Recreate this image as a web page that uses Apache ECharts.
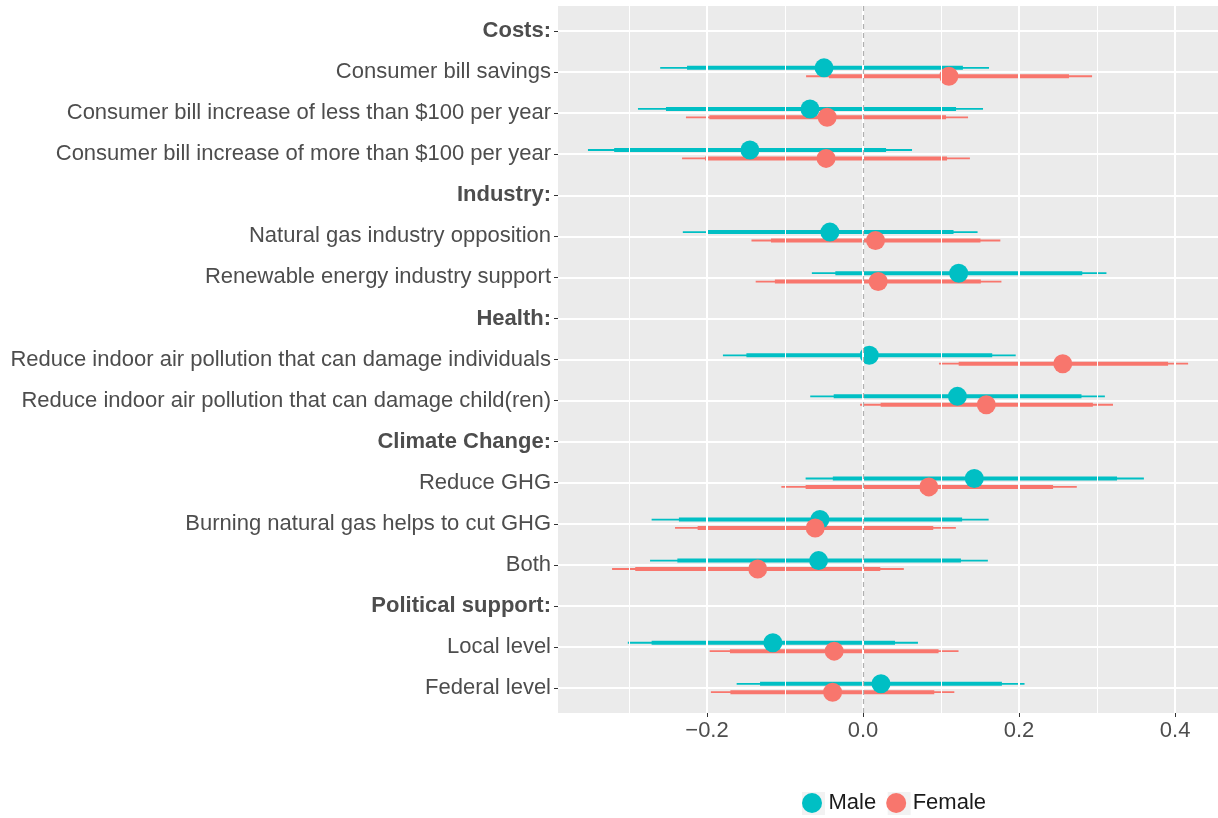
<!DOCTYPE html>
<html>
<head>
<meta charset="utf-8">
<script src="https://cdn.jsdelivr.net/npm/echarts@6/dist/echarts.min.js"></script>
<style>html,body{margin:0;padding:0;background:#fff}#c{width:1218px;height:818px}</style>
</head>
<body>
<div id="c"></div>
<script>
// ---- data ----
const categories = [
  'Costs:',
  'Consumer bill savings',
  'Consumer bill increase of less than $100 per year',
  'Consumer bill increase of more than $100 per year',
  'Industry:',
  'Natural gas industry opposition',
  'Renewable energy industry support',
  'Health:',
  'Reduce indoor air pollution that can damage individuals',
  'Reduce indoor air pollution that can damage child(ren)',
  'Climate Change:',
  'Reduce GHG',
  'Burning natural gas helps to cut GHG',
  'Both',
  'Political support:',
  'Local level',
  'Federal level'
];
const headers = ['Costs:', 'Industry:', 'Health:', 'Climate Change:', 'Political support:'];

// estimate, outer interval (low, high), inner interval (low, high); null for header rows
const maleEst  = [null, -0.050, -0.068, -0.145, null, -0.0425, 0.1226, null, 0.008, 0.121, null, 0.1426, -0.0553, -0.057, null, -0.1156, 0.023];
const maleLo95 = [null, -0.260, -0.2885, -0.3526, null, -0.231, -0.0656, null, -0.1796, -0.0677, null, -0.0736, -0.271, -0.273, null, -0.3015, -0.162];
const maleHi95 = [null, 0.1615, 0.1538, 0.0628, null, 0.1468, 0.312, null, 0.1957, 0.310, null, 0.360, 0.161, 0.160, null, 0.0704, 0.207];
const maleLo90 = [null, -0.2256, -0.2526, -0.319, null, -0.201, -0.0355, null, -0.1495, -0.0376, null, -0.0387, -0.236, -0.238, null, -0.271, -0.132];
const maleHi90 = [null, 0.128, 0.1192, 0.0295, null, 0.116, 0.281, null, 0.1656, 0.280, null, 0.3256, 0.127, 0.1255, null, 0.041, 0.178];

const femaleEst  = [null, 0.110, -0.046, -0.0474, null, 0.016, 0.0194, null, 0.256, 0.158, null, 0.0843, -0.0613, -0.135, null, -0.037, -0.039];
const femaleLo95 = [null, -0.073, -0.227, -0.232, null, -0.143, -0.1376, null, 0.0973, -0.0038, null, -0.1047, -0.241, -0.3217, null, -0.1966, -0.195];
const femaleHi95 = [null, 0.2936, 0.1346, 0.137, null, 0.176, 0.1774, null, 0.4167, 0.3204, null, 0.274, 0.119, 0.0523, null, 0.1224, 0.117];
const femaleLo90 = [null, -0.0436, -0.197, -0.2026, null, -0.118, -0.113, null, 0.1226, 0.0226, null, -0.0736, -0.212, -0.292, null, -0.1706, -0.170];
const femaleHi90 = [null, 0.264, 0.1064, 0.1077, null, 0.1505, 0.151, null, 0.391, 0.2946, null, 0.2436, 0.090, 0.0221, null, 0.0968, 0.0913];

const xMajorTicks = [-0.2, 0, 0.2, 0.4];
const xMinorTicks = [-0.3, -0.1, 0.1, 0.3];
const xMin = -0.391, xMax = 0.455;

// ---- styling ----
const FONT = 'Liberation Sans, Arial, Helvetica, sans-serif';
const MALE = '#00BFC4', FEMALE = '#F8766D';
const DODGE = 4.2;

function rangeData(lo95, hi95, lo90, hi90) {
  const out = [];
  for (let i = 0; i < categories.length; i++) {
    if (lo95[i] == null) continue;
    out.push([i, lo95[i], hi95[i], lo90[i], hi90[i]]);
  }
  return out;
}
function pointData(est) {
  const out = [];
  for (let i = 0; i < categories.length; i++) {
    if (est[i] == null) continue;
    out.push([est[i], i]);
  }
  return out;
}
function makeRender(color, dy) {
  return function (params, api) {
    const yi = api.value(0);
    const a = api.coord([api.value(1), yi]);
    const b = api.coord([api.value(2), yi]);
    const c = api.coord([api.value(3), yi]);
    const d = api.coord([api.value(4), yi]);
    return {
      type: 'group',
      children: [
        { type: 'line', shape: { x1: a[0], y1: a[1] + dy, x2: b[0], y2: b[1] + dy },
          style: { stroke: color, lineWidth: 1.8 } },
        { type: 'line', shape: { x1: c[0], y1: c[1] + dy, x2: d[0], y2: d[1] + dy },
          style: { stroke: color, lineWidth: 4 } }
      ]
    };
  };
}

const chart = echarts.init(document.getElementById('c'), null, { renderer: 'canvas' });
const markData = [];
xMinorTicks.forEach(v => markData.push({ xAxis: v, lineStyle: { color: '#ffffff', width: 1, type: 'solid' } }));
xMajorTicks.forEach(v => markData.push({ xAxis: v, lineStyle: { color: '#ffffff', width: 2, type: 'solid' } }));
markData.push({ xAxis: 0, lineStyle: { color: '#b0b0b0', width: 1.2, type: [5, 4] } });

chart.setOption({
  animation: false,
  textStyle: { fontFamily: FONT },
  grid: [
    { left: 558, right: 0, top: 6, bottom: 105, show: true, backgroundColor: '#ebebeb', borderWidth: 0, outerBoundsMode: 'none' },
    { left: 558, right: 0, top: 31, bottom: 130, show: false, outerBoundsMode: 'none' }
  ],
  xAxis: [
    { type: 'value', gridIndex: 0, min: xMin, max: xMax,
      axisLine: { show: false, onZero: false },
      splitLine: { show: false },
      axisTick: { show: true, length: 4, lineStyle: { color: '#333333', width: 1 }, customValues: xMajorTicks },
      axisLabel: { customValues: xMajorTicks, margin: 7, fontSize: 22, color: '#4d4d4d', fontFamily: FONT,
        formatter: v => v.toFixed(1).replace('-', '\u2212') } },
    { type: 'value', gridIndex: 1, min: xMin, max: xMax, show: false, axisLine: { onZero: false } }
  ],
  yAxis: [
    { type: 'value', gridIndex: 0, min: 0, max: 1, show: false, axisLine: { onZero: false } },
    { type: 'category', gridIndex: 1, data: categories, inverse: true, boundaryGap: false, z: 1, position: 'left',
      axisLine: { show: false, onZero: false },
      axisTick: { show: true, length: 4, lineStyle: { color: '#333333', width: 1 } },
      splitLine: { show: true, lineStyle: { color: '#ffffff', width: 2 } },
      axisLabel: { margin: 7, fontSize: 22, color: '#4d4d4d', fontFamily: FONT, interval: 0,
        formatter: v => headers.indexOf(v) >= 0 ? '{h|' + v + '}' : v,
        rich: { h: { fontWeight: 'bold', fontSize: 22, color: '#4d4d4d', fontFamily: FONT } } } }
  ],
  legend: [
    { left: 797, top: 787, orient: 'horizontal', icon: 'rect', itemWidth: 23, itemHeight: 23, itemGap: 10,
      selectedMode: false, z: 1,
      textStyle: { fontSize: 22, color: 'rgba(0,0,0,0)', fontFamily: FONT },
      data: [{ name: 'Male', itemStyle: { color: '#f2f2f2' } }, { name: 'Female', itemStyle: { color: '#f2f2f2' } }] },
    { left: 797, top: 787, orient: 'horizontal', icon: 'circle', itemWidth: 23, itemHeight: 20, itemGap: 10,
      selectedMode: false, z: 2,
      textStyle: { fontSize: 22, color: '#1a1a1a', fontFamily: FONT },
      data: [{ name: 'Male', itemStyle: { color: MALE } }, { name: 'Female', itemStyle: { color: FEMALE } }] }
  ],
  series: [
    { type: 'line', xAxisIndex: 0, yAxisIndex: 0, data: [], silent: true, z: 1,
      markLine: { silent: true, symbol: 'none', label: { show: false }, animation: false, data: markData } },
    { name: 'Male', type: 'custom', xAxisIndex: 1, yAxisIndex: 1, z: 3, silent: true,
      renderItem: makeRender(MALE, -DODGE), encode: { y: 0, x: [1, 2, 3, 4] },
      data: rangeData(maleLo95, maleHi95, maleLo90, maleHi90), itemStyle: { color: MALE } },
    { name: 'Female', type: 'custom', xAxisIndex: 1, yAxisIndex: 1, z: 3, silent: true,
      renderItem: makeRender(FEMALE, DODGE), encode: { y: 0, x: [1, 2, 3, 4] },
      data: rangeData(femaleLo95, femaleHi95, femaleLo90, femaleHi90), itemStyle: { color: FEMALE } },
    { name: 'Male', type: 'scatter', xAxisIndex: 1, yAxisIndex: 1, z: 4, silent: true,
      symbol: 'circle', symbolSize: 19, symbolOffset: [0, -DODGE],
      itemStyle: { color: MALE, opacity: 1 }, data: pointData(maleEst) },
    { name: 'Female', type: 'scatter', xAxisIndex: 1, yAxisIndex: 1, z: 4, silent: true,
      symbol: 'circle', symbolSize: 19, symbolOffset: [0, DODGE],
      itemStyle: { color: FEMALE, opacity: 1 }, data: pointData(femaleEst) }
  ]
});
</script>
</body>
</html>
